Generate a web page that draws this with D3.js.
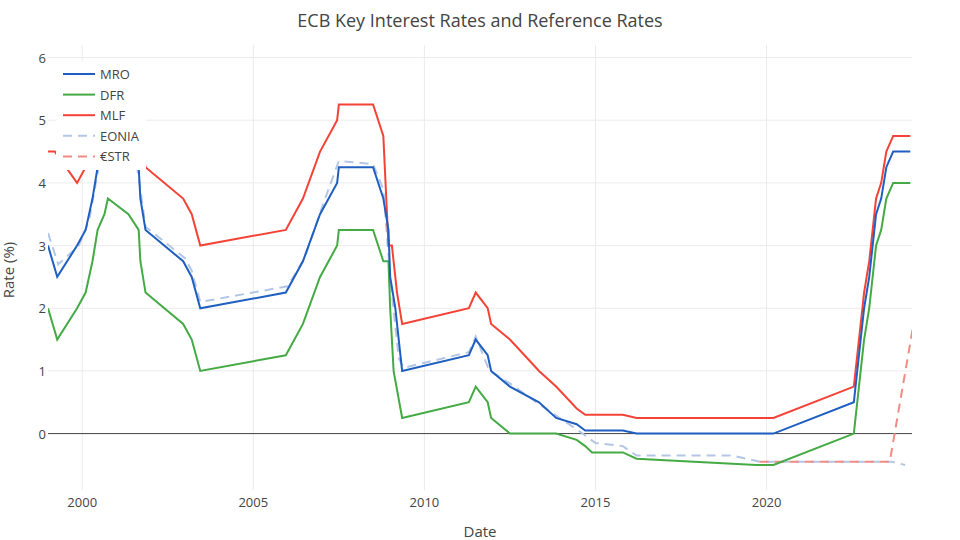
<!DOCTYPE html>
<html><head><meta charset="utf-8">
<script src="https://cdn.jsdelivr.net/npm/d3@7"></script>
<style>body{margin:0;background:#fff}text{font-family:"Open Sans",sans-serif}</style>
</head><body><svg id="c" width="960" height="540"></svg>
<script>
const mroX=[1999.0,1999.27,1999.85,2000.1,2000.3,2000.45,2000.7,2001.35,2001.65,2001.7,2001.85,2002.95,2003.2,2003.45,2005.95,2006.45,2006.95,2007.45,2007.5,2008.5,2008.8,2008.95,2009.0,2009.15,2009.25,2009.35,2011.3,2011.5,2011.85,2011.95,2012.5,2013.35,2013.85,2014.45,2014.7,2015.8,2016.2,2020.2,2022.55,2022.7,2022.85,2023.0,2023.2,2023.35,2023.5,2023.7,2024.2];
const mroY=[3.0,2.5,3.0,3.25,3.75,4.25,4.75,4.5,4.25,3.75,3.25,2.75,2.5,2.0,2.25,2.75,3.5,4.0,4.25,4.25,3.75,3.25,2.5,2.0,1.5,1.0,1.25,1.5,1.25,1.0,0.75,0.5,0.25,0.15,0.05,0.05,0.0,0.0,0.5,1.25,2.0,2.5,3.5,3.75,4.25,4.5,4.5];
const dfrX=[1999.0,1999.27,1999.85,2000.1,2000.3,2000.45,2000.65,2000.75,2001.35,2001.65,2001.7,2001.85,2002.95,2003.2,2003.45,2005.95,2006.45,2006.95,2007.45,2007.5,2008.5,2008.8,2008.95,2009.0,2009.1,2009.35,2011.3,2011.5,2011.85,2011.95,2012.5,2013.85,2014.45,2014.7,2014.9,2015.8,2016.2,2019.7,2020.2,2022.55,2022.7,2022.85,2023.0,2023.2,2023.35,2023.5,2023.7,2024.2];
const dfrY=[2.0,1.5,2.0,2.25,2.75,3.25,3.5,3.75,3.5,3.25,2.75,2.25,1.75,1.5,1.0,1.25,1.75,2.5,3.0,3.25,3.25,2.75,2.75,2.0,1.0,0.25,0.5,0.75,0.5,0.25,0.0,0.0,-0.1,-0.2,-0.3,-0.3,-0.4,-0.5,-0.5,0.0,0.75,1.5,2.0,3.0,3.25,3.75,4.0,4.0];
const mlfX=[1999.0,1999.2,1999.85,2000.1,2000.3,2000.45,2000.7,2001.35,2001.65,2001.7,2001.85,2002.95,2003.2,2003.45,2005.95,2006.45,2006.95,2007.45,2007.5,2008.5,2008.8,2008.95,2009.05,2009.2,2009.35,2011.3,2011.5,2011.85,2011.95,2012.5,2013.35,2013.85,2014.45,2014.7,2015.8,2016.2,2020.2,2022.55,2022.7,2022.85,2023.0,2023.2,2023.35,2023.5,2023.7,2024.2];
const mlfY=[4.5,4.5,4.0,4.25,4.75,5.25,5.75,5.5,5.25,4.75,4.25,3.75,3.5,3.0,3.25,3.75,4.5,5.0,5.25,5.25,4.75,3.0,3.0,2.25,1.75,2.0,2.25,2.0,1.75,1.5,1.0,0.75,0.4,0.3,0.3,0.25,0.25,0.75,1.5,2.25,2.75,3.75,4.0,4.5,4.75,4.75];
const eoniaX=[1999.0,1999.3,1999.9,2000.2,2000.5,2000.8,2001.5,2001.7,2001.85,2003.0,2003.2,2003.45,2006.0,2006.5,2007.0,2007.5,2008.5,2008.8,2009.0,2009.25,2009.4,2011.3,2011.5,2011.9,2012.5,2013.4,2014.5,2015.0,2015.8,2016.2,2019.0,2019.8,2020.2,2023.65,2024.05];
const eoniaY=[3.2,2.7,3.0,3.4,4.3,4.8,4.6,3.9,3.3,2.8,2.6,2.1,2.35,2.8,3.6,4.35,4.3,3.9,2.5,1.2,1.05,1.3,1.55,1.0,0.8,0.45,0.05,-0.15,-0.2,-0.35,-0.35,-0.45,-0.45,-0.45,-0.5];
const estrX=[2019.8,2023.6,2024.5];
const estrY=[-0.45,-0.45,2.4];
const yTicks=[0,1,2,3,4,5,6];
const xTicks=[2000,2005,2010,2015,2020];

const svg=d3.select("#c");
const L=48,R=912,T=45,B=490;
const x=d3.scaleLinear().domain([1999,2024.25]).range([L,R]);
const y=d3.scaleLinear().domain([-0.9,6.2]).range([B,T]);
svg.append("defs").append("clipPath").attr("id","cp").append("rect").attr("x",L).attr("y",T).attr("width",R-L).attr("height",B-T);
const g=svg.append("g");
xTicks.forEach(t=>g.append("line").attr("x1",x(t)).attr("x2",x(t)).attr("y1",T).attr("y2",B).attr("stroke","#ebebeb"));
yTicks.forEach(t=>g.append("line").attr("x1",L).attr("x2",R).attr("y1",y(t)).attr("y2",y(t)).attr("stroke",t===0?"#444":"#ebebeb").attr("stroke-width",1));
yTicks.forEach(t=>svg.append("text").attr("x",L-2).attr("y",y(t)+5).attr("text-anchor","end").attr("font-size",13).attr("fill","#444").text(t));
xTicks.forEach(t=>svg.append("text").attr("x",x(t)).attr("y",B+17).attr("text-anchor","middle").attr("font-size",13).attr("fill","#444").text(t));
const series=[
 {n:"EONIA",xs:eoniaX,ys:eoniaY,c:"#b3c6e6",d:"9,6"},
 {n:"€STR",xs:estrX,ys:estrY,c:"#f08c84",d:"9,6"},
 {n:"DFR",xs:dfrX,ys:dfrY,c:"#44aa44",d:null},
 {n:"MLF",xs:mlfX,ys:mlfY,c:"#f44336",d:null},
 {n:"MRO",xs:mroX,ys:mroY,c:"#1f5fc1",d:null}];
const line=d3.line().x(d=>x(d[0])).y(d=>y(d[1]));
const pl=svg.append("g").attr("clip-path","url(#cp)");
series.forEach(s=>{
 pl.append("path").attr("d",line(s.xs.map((v,i)=>[v,s.ys[i]]))).attr("fill","none").attr("stroke",s.c).attr("stroke-width",2).attr("stroke-dasharray",s.d);
});
const lg=svg.append("g");
lg.append("rect").attr("x",56).attr("y",62).attr("width",90).attr("height",108).style("fill","#ffffff").style("fill-opacity",1);
["MRO","DFR","MLF","EONIA","€STR"].forEach((n,i)=>{
 const s=series.find(d=>d.n===n);const yy=74+i*20.6;
 lg.append("line").attr("x1",63).attr("x2",95).attr("y1",yy).attr("y2",yy).attr("stroke",s.c).attr("stroke-width",2).attr("stroke-dasharray",s.d);
 lg.append("text").attr("x",100).attr("y",yy+5).attr("font-size",13).attr("fill","#444").text(n);
});
lg.raise();
svg.append("text").attr("x",480).attr("y",27).attr("text-anchor","middle").attr("font-size",18).attr("fill","#444").text("ECB Key Interest Rates and Reference Rates");
svg.append("text").attr("x",480).attr("y",537).attr("text-anchor","middle").attr("font-size",15).attr("fill","#444").text("Date");
svg.append("text").attr("transform","translate(14,270) rotate(-90)").attr("text-anchor","middle").attr("font-size",15).attr("fill","#444").text("Rate (%)");
</script></body></html>
